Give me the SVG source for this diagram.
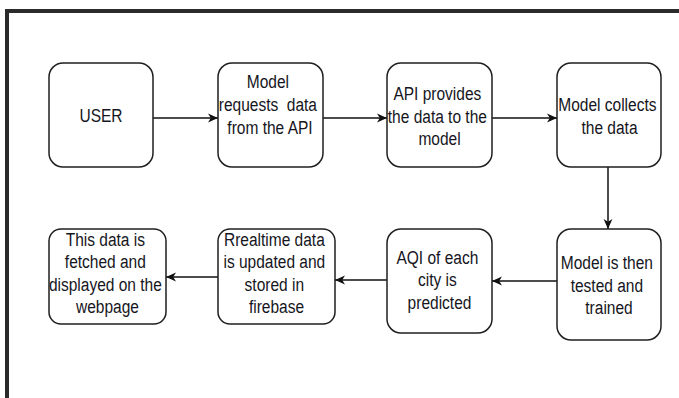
<svg xmlns="http://www.w3.org/2000/svg" width="679" height="398" viewBox="0 0 679 398">
  <style>
    .box { fill: #ffffff; stroke: #1f1f1f; stroke-width: 1.5; }
    .lbl { font-family: "Liberation Sans", Arial, sans-serif; font-size: 16px; fill: #161622; text-anchor: middle; }
    .edge { fill: none; stroke: #111111; stroke-width: 1.5; marker-end: url(#arrow); }
    .frame { fill: none; stroke: #2b2b2b; stroke-width: 4; }
  </style>
  <defs>
    <marker id="arrow" markerUnits="userSpaceOnUse" markerWidth="12" markerHeight="10" refX="10" refY="5" orient="auto">
      <path d="M0,0.6 L10,5 L0,9.4 L2.8,5 Z" fill="#111111"/>
    </marker>
  </defs>
  <rect width="679" height="398" fill="#ffffff"/>

  <!-- page frame along top and left edges -->
  <path class="frame" d="M7,398 L7,11 L679,11"/>

  <!-- connectors -->
  <g id="edges">
    <line class="edge" x1="153" y1="118" x2="218" y2="118"/>
    <line class="edge" x1="323" y1="118" x2="387" y2="118"/>
    <line class="edge" x1="492" y1="118" x2="557" y2="118"/>
    <line class="edge" x1="608" y1="167" x2="608" y2="229"/>
    <line class="edge" x1="557" y1="281" x2="492" y2="281"/>
    <line class="edge" x1="387" y1="280" x2="335" y2="280"/>
    <line class="edge" x1="218" y1="277" x2="166" y2="277"/>
  </g>

  <g id="user">
    <rect class="box" x="49" y="63" width="104" height="104" rx="14"/>
    <text class="lbl" transform="translate(101,122) scale(0.97,1.1)"><tspan x="0" y="0">USER</tspan></text>
  </g>

  <g id="request">
    <rect class="box" x="218" y="63" width="105" height="104" rx="14"/>
    <text class="lbl" transform="translate(270,88) scale(0.97,1.1)">
      <tspan x="0" y="0">Model</tspan>
      <tspan x="0" y="20.8" xml:space="preserve">requests  data</tspan>
      <tspan x="0" y="41.6">from the API</tspan>
    </text>
  </g>

  <g id="provide">
    <rect class="box" x="387" y="63" width="105" height="104" rx="14"/>
    <text class="lbl" transform="translate(439.5,100) scale(0.97,1.1)">
      <tspan x="0" y="0">API provides</tspan>
      <tspan x="0" y="20.6">the data to the</tspan>
      <tspan x="0" y="41.2">model</tspan>
    </text>
  </g>

  <g id="collect">
    <rect class="box" x="557" y="63" width="104" height="104" rx="14"/>
    <text class="lbl" transform="translate(609.5,111) scale(0.97,1.1)">
      <tspan x="0" y="0">Model collects</tspan>
      <tspan x="0" y="20.8">the data</tspan>
    </text>
  </g>

  <g id="train">
    <rect class="box" x="557" y="229" width="104" height="111" rx="14"/>
    <text class="lbl" transform="translate(609,269) scale(0.97,1.1)">
      <tspan x="0" y="0">Model is then</tspan>
      <tspan x="0" y="20.6">tested and</tspan>
      <tspan x="0" y="41.2">trained</tspan>
    </text>
  </g>

  <g id="predict">
    <rect class="box" x="387" y="229" width="105" height="104" rx="14"/>
    <text class="lbl" transform="translate(439.5,263.5) scale(0.97,1.1)">
      <tspan x="0" y="0">AQI of each</tspan>
      <tspan x="0" y="20.5">city is</tspan>
      <tspan x="0" y="41">predicted</tspan>
    </text>
  </g>

  <g id="firebase">
    <rect class="box" x="218" y="229" width="117" height="95" rx="12"/>
    <text class="lbl" transform="translate(276.5,245.5) scale(0.97,1.1)">
      <tspan x="0" y="0">Rrealtime data</tspan>
      <tspan x="0" y="20.6">is updated and</tspan>
      <tspan x="0" y="41.2">stored in</tspan>
      <tspan x="0" y="61.8">firebase</tspan>
    </text>
  </g>

  <g id="webpage">
    <rect class="box" x="49" y="229" width="117" height="95" rx="12"/>
    <text class="lbl" transform="translate(107.5,245.5) scale(0.97,1.1)">
      <tspan x="0" y="0">This data is</tspan>
      <tspan x="0" y="20.6">fetched and</tspan>
      <tspan x="0" y="41.2">displayed on the</tspan>
      <tspan x="0" y="61.8">webpage</tspan>
    </text>
  </g>
</svg>
